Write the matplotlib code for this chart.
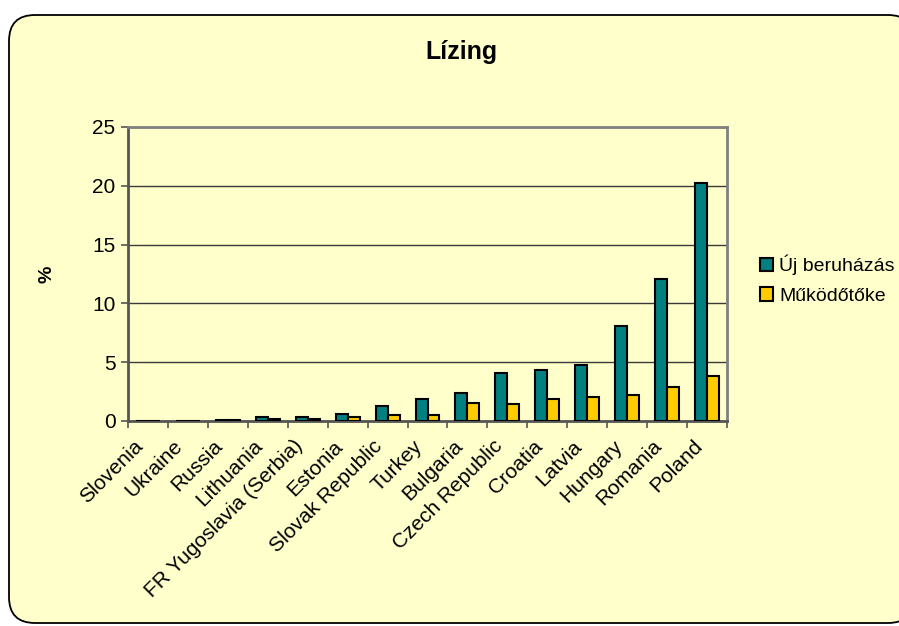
import numpy as np
import matplotlib
matplotlib.use("Agg")
from matplotlib import pyplot
from matplotlib.patches import FancyBboxPatch
from matplotlib.transforms import IdentityTransform, ScaledTranslation

# Data

countries = ["Slovenia", "Ukraine", "Russia", "Lithuania", "FR Yugoslavia (Serbia)",
             "Estonia", "Slovak Republic", "Turkey", "Bulgaria", "Czech Republic",
             "Croatia", "Latvia", "Hungary", "Romania", "Poland"]
ujBeruhazas = [0.0, 0.0, 0.1, 0.35, 0.35, 0.6, 1.3, 1.9, 2.35, 4.1, 4.3, 4.8, 8.1, 12.1, 20.2]
mukodotoke = [0.0, 0.0, 0.1, 0.17, 0.2, 0.37, 0.5, 0.48, 1.5, 1.47, 1.9, 2.0, 2.2, 2.85, 3.8]
seriesNames = ["Új beruházás", "Működőtőke"]
yTicks = [0, 5, 10, 15, 20, 25]

# Style

pyplot.rcParams["font.family"] = ["Liberation Sans", "DejaVu Sans"]
bgColor = "#FFFFCC"
tealColor = "#008080"
yellowColor = "#FFCC00"

fig = pyplot.figure(figsize = (8.99, 6.26), dpi = 100)
fig.patch.set_facecolor("white")

# Rounded chart area (pixel coordinates)
box = FancyBboxPatch((9, 3), 905, 608, boxstyle = "round,pad=0,rounding_size=26",
                     transform = IdentityTransform(), facecolor = bgColor,
                     edgecolor = "black", linewidth = 1.3, zorder = -5)
fig.patches.append(box)

ax = fig.add_axes([128 / 899, 205 / 626, 599 / 899, 294 / 626])
ax.set_facecolor("none")
ax.set_zorder(2)

x = np.arange(len(countries))
barWidth = 0.3
ax.bar(x - barWidth / 2, ujBeruhazas, barWidth, color = tealColor, edgecolor = "black",
       linewidth = 1.5, label = seriesNames[0], zorder = 3)
ax.bar(x + barWidth / 2, mukodotoke, barWidth, color = yellowColor, edgecolor = "black",
       linewidth = 1.5, label = seriesNames[1], zorder = 3)

ax.set_xlim(-0.5, len(countries) - 0.5)
ax.set_ylim(0, 25)
ax.set_yticks(yTicks)
ax.yaxis.grid(True, color = "#3a3a3a", linewidth = 1)
ax.set_axisbelow(True)

# Category ticks at the boundaries, labels at the centres
ax.set_xticks(np.arange(len(countries) + 1) - 0.5)
ax.set_xticklabels([])
ax.set_xticks(x, minor = True)
ax.set_xticklabels(countries, minor = True, rotation = 45, ha = "right",
                   va = "center", rotation_mode = "anchor", fontsize = 15)
ax.tick_params(axis = "x", which = "minor", length = 0, pad = 16)
ax.tick_params(axis = "x", which = "major", length = 5, width = 1.2, color = "#555555")
ax.tick_params(axis = "y", length = 5, width = 1.2, color = "#555555", labelsize = 15, pad = 4)

# Excel puts the rotated labels a little left of the category centre
for lbl in ax.get_xticklabels(minor = True):
    lbl.set_transform(lbl.get_transform() + ScaledTranslation(-0.08, 0, fig.dpi_scale_trans))

for side in ["top", "right"]:
    ax.spines[side].set_color("#808080")
    ax.spines[side].set_linewidth(2)
for side in ["left", "bottom"]:
    ax.spines[side].set_color("#555555")
    ax.spines[side].set_linewidth(2)

fig.text(461 / 899, 1 - 52 / 626, "Lízing", ha = "center", va = "center",
         fontsize = 18, fontweight = "bold")
fig.text(47 / 899, 1 - 274 / 626, "%", ha = "center", va = "center",
         rotation = 90, fontsize = 14, fontweight = "bold")

ax.legend(loc = "upper left", bbox_to_anchor = (752 / 899, 1 - 247 / 626),
          bbox_transform = fig.transFigure, frameon = False, fontsize = 14,
          handlelength = 0.7, handleheight = 0.7, handletextpad = 0.3,
          labelspacing = 0.62, borderaxespad = 0)

fig.savefig("out.png", dpi = 100, facecolor = fig.get_facecolor())
pyplot.close(fig)
